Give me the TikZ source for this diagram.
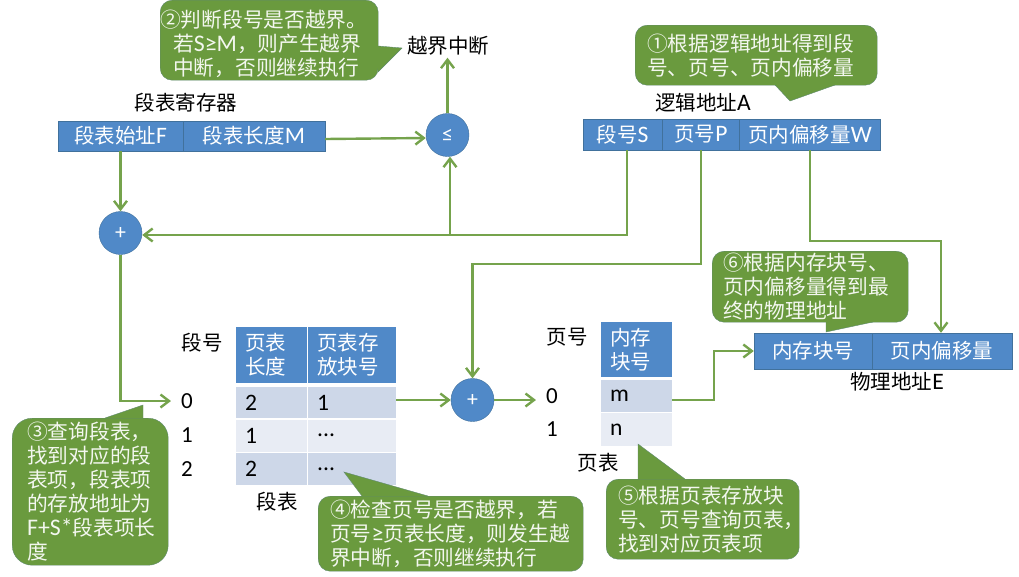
\documentclass[tikz,border=0pt]{standalone}
\usepackage{fontspec}
\setmainfont{Noto Sans CJK SC}
\newfontfamily\lat[Scale=1.15]{Carlito}
\usetikzlibrary{arrows.meta}
\hfuzz=20pt
\definecolor{fieldblue}{HTML}{5089C8}
\definecolor{fieldedge}{HTML}{41719C}
\definecolor{rowdark}{HTML}{CDD7E8}
\definecolor{rowlight}{HTML}{E8ECF4}
\definecolor{linkgreen}{HTML}{75A34C}
\definecolor{bubblegreen}{HTML}{6A9A3E}
\definecolor{bubbleedge}{HTML}{5F8A6E}
\tikzset{
    % Boxes
    addr field/.style={rectangle, fill=fieldblue, draw=fieldedge, text=white,
                       inner sep=0pt, font=\fontsize{20.5}{24}\selectfont},
    op node/.style={circle, fill=fieldblue, draw=fieldedge, text=white,
                    minimum size=43pt, inner sep=0pt, font=\lat\fontsize{19}{22}\selectfont},
    % Tables
    tb cell/.style={rectangle, anchor=north west, inner xsep=9pt, inner ysep=0pt,
                    align=left, font=\fontsize{20.5}{24}\selectfont},
    tb head/.style={tb cell, fill=fieldblue, text=white},
    tb dark/.style={tb cell, fill=rowdark, minimum height=31pt},
    tb light/.style={tb cell, fill=rowlight, minimum height=32pt},
    tb index/.style={inner xsep=10pt, inner ysep=0pt, font=\lat\fontsize{20}{24}\selectfont},
    plain lbl/.style={inner sep=2pt, font=\fontsize{20.5}{24}\selectfont},
    % Connectors
    link/.style={draw=linkgreen, line width=2.4pt, line join=miter},
    link arrow/.style={link, -{Straight Barb[length=8.5pt,width=13pt,line width=2.4pt]}},
    % Notes
    bubble/.style={rectangle, rounded corners=12pt, fill=bubblegreen, draw=bubbleedge,
                   text=white!92!bubblegreen, align=left, anchor=north west, inner xsep=0pt,
                   inner ysep=0pt, font=\fontsize{20.7}{24}\selectfont},
    bubble tip/.style={fill=bubblegreen, draw=bubbleedge},
}
\begin{document}
\begin{tikzpicture}[x=1pt, y=-1pt]
    \useasboundingbox (0,0) rectangle (1019,576);
    % Segment table register
    \node[plain lbl] (reglbl) at (186,103) {段表寄存器};
    \node[addr field, minimum width=125pt, minimum height=30pt] (regF) at (120.5,136) {段表始址{\lat F}};
    \node[addr field, minimum width=142pt, minimum height=30pt] (regM) at (254,136) {段表长度{\lat M}};
    % Logical address
    \node[plain lbl] (logiclbl) at (703,103) {逻辑地址{\lat A}};
    \node[addr field, minimum width=79pt, minimum height=31pt] (logS) at (622.5,134.5) {段号{\lat S}};
    \node[addr field, minimum width=77pt, minimum height=31pt] (logP) at (701,134.5) {页号{\lat P}};
    \node[addr field, minimum width=141pt, minimum height=31pt] (logW) at (810,134.5) {页内偏移量{\lat W}};
    % Physical address
    \node[addr field, minimum width=118pt, minimum height=36pt] (physB) at (813,351) {内存块号};
    \node[addr field, minimum width=140pt, minimum height=36pt] (physW) at (942,351) {页内偏移量};
    \node[plain lbl] (physlbl) at (897,382) {物理地址{\lat E}};
    % Operators
    \node[op node] (le) at (447.5,135) {≤};
    \node[op node] (add1) at (120.5,233) {+};
    \node[op node] (add2) at (472.5,400) {+};
    \node[plain lbl] (ovf) at (448,46) {越界中断};
    % Segment table
    \node[plain lbl] (seglbl) at (202,343) {段号};
    \node[tb index] (idx0) at (187,401) {0};
    \node[tb index] (idx1) at (187,435) {1};
    \node[tb index] (idx2) at (187,469) {2};
    \node[tb head, text width=52.5pt, minimum height=56pt] (segH1) at (236,327) {页表\\长度};
    \node[tb head, text width=70pt, minimum height=56pt] (segH2) at (308,327) {页表存\\放块号};
    \node[tb dark, text width=52.5pt] (seg1a) at (236,387) {\lat 2};
    \node[tb dark, text width=70pt] (seg1b) at (308,387) {\lat 1};
    \node[tb light, text width=52.5pt] (seg2a) at (236,419.5) {\lat 1};
    \node[tb light, text width=70pt] (seg2b) at (308,419.5) {\lat ...};
    \node[tb dark, minimum height=32pt, text width=52.5pt] (seg3a) at (236,453) {\lat 2};
    \node[tb dark, minimum height=32pt, text width=70pt] (seg3b) at (308,453) {\lat ...};
    \node[plain lbl] (segname) at (277,502) {段表};
    % Page table
    \node[plain lbl] (pagelbl) at (567,337) {页号};
    \node[tb index] (pidx0) at (552,396) {0};
    \node[tb index] (pidx1) at (552,429) {1};
    \node[tb head, text width=53pt, minimum height=55pt] (pageH) at (601,322) {内存\\块号};
    \node[tb dark, text width=53pt, minimum height=32pt] (page1) at (601,380) {\lat m};
    \node[tb light, text width=53pt, minimum height=33pt] (page2) at (601,413) {\lat n};
    \node[plain lbl] (pagename) at (598,463) {页表};
    % Register and address connectors
    \coordinate (sbend) at (627,235);
    \coordinate (sjoin) at (450,235);
    \coordinate (pbend) at (701,264);
    \coordinate (pjoin) at (472.5,264);
    \coordinate (wbend) at (810,241);
    \coordinate (wjoin) at (941,241);
    \coordinate (mbend) at (714,400);
    \draw[link arrow] (regF) -- (add1);
    \draw[link arrow] ([yshift=-3pt]regM.east) -- ([yshift=-3pt]le.west);
    \draw[link arrow] (le.north) -- (le.north |- ovf.south);
    \draw[link arrow] (logS.south -| sbend) -- (sbend) -- (add1.east |- sbend);
    \draw[link arrow] (sjoin) -- (sjoin |- le.south);
    \draw[link arrow] (logP.south) -- (pbend) -- (pjoin) -- (add2.north);
    \draw[link arrow] (logW.south) -- (wbend) -- (wjoin) -- (wjoin |- physW.north);
    \draw[link arrow] (add1.south) |- (idx0.west);
    \draw[link arrow] (seg1b.east |- add2) -- (add2);
    \draw[link arrow] (add2) -- (add2 -| pidx0.west);
    \draw[link arrow] (page1.east |- mbend) -- (mbend) |- (physB.west);
    % Notes
    \node[bubble, text width=218pt, minimum height=80pt] (note2) at (160,0)
        {\hspace{13pt}②判断段号是否越界。\\\hspace{13pt}若{\lat S≥M}，则产生越界\\\hspace{13pt}中断，否则继续执行};
    \path[bubble tip] (378,46) -- (402,48) -- (378,72);
    \node[bubble, text width=242pt, minimum height=60pt] (note1) at (635,25)
        {\hspace{12pt}①根据逻辑地址得到段\\\hspace{12pt}号、页号、页内偏移量};
    \path[bubble tip] (775,85) -- (790,101) -- (835,85);
    \node[bubble, rounded corners=20pt, text width=156pt, minimum height=147pt] (note3) at (12,418)
        {\hspace{15pt}③查询段表，\\\hspace{15pt}找到对应的段\\\hspace{15pt}表项，段表项\\\hspace{15pt}的存放地址为\\\hspace{15pt}{\lat F+S*}段表项长\\\hspace{15pt}度};
    \path[bubble tip] (105,418) -- (143,405) -- (143,418);
    \node[bubble, text width=265pt, minimum height=75pt] (note4) at (318,496)
        {\hspace{12pt}④检查页号是否越界，若\\\hspace{12pt}页号{\lat ≥}页表长度，则发生越\\\hspace{12pt}界中断，否则继续执行};
    \path[bubble tip] (362,496) -- (344,472) -- (428,496);
    \node[bubble, text width=193pt, minimum height=80pt] (note5) at (606,479)
        {\hspace{12pt}⑤根据页表存放块\\\mbox{\hspace{12pt}号、页号查询页表，}\\\hspace{12pt}找到对应页表项};
    \path[bubble tip] (638,479) -- (638,444) -- (685,479);
    \node[bubble, text width=196pt, minimum height=71pt] (note6) at (712,251)
        {\hspace{11pt}⑥根据内存块号、\\\hspace{11pt}页内偏移量得到最\\\hspace{11pt}终的物理地址};
    \path[bubble tip] (826,322) -- (826,332) -- (873,322);
\end{tikzpicture}
\end{document}
